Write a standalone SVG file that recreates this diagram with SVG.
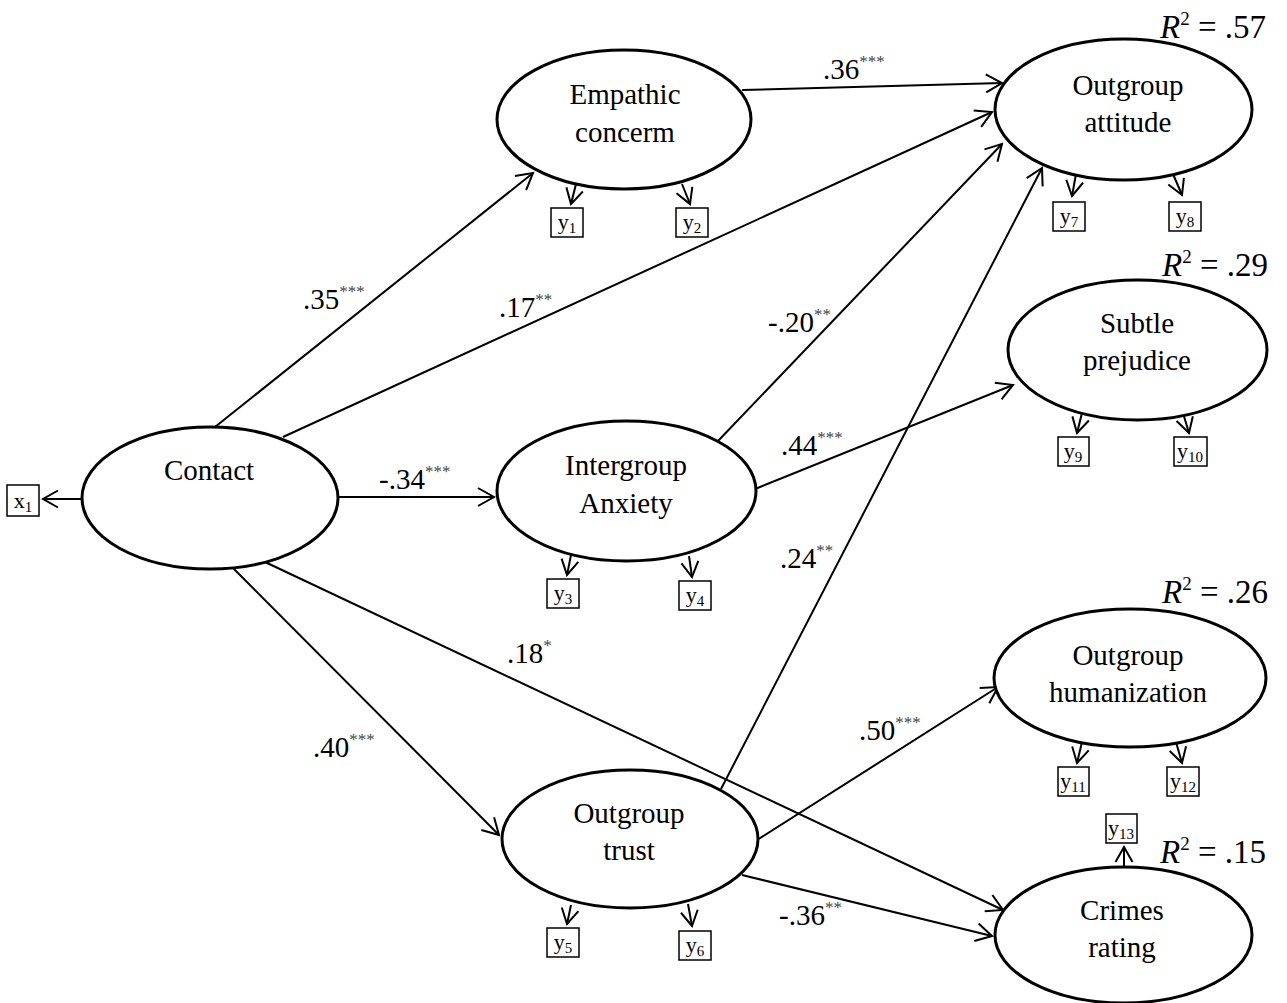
<svg xmlns="http://www.w3.org/2000/svg" width="1287" height="1003" viewBox="0 0 1287 1003">
  <defs>
    <style>
      text { font-family: "Liberation Serif", "Times New Roman", serif; fill: #000; }
      .node ellipse { fill: #fff; stroke: #000; stroke-width: 3; }
      .node .name { font-size: 29px; text-anchor: middle; }
      .ind rect { fill: #fff; stroke: #000; stroke-width: 1.5; }
      .ind text { font-size: 22px; text-anchor: middle; }
      .ind .sub { font-size: 15px; }
      .path line { stroke: #000; stroke-width: 2; fill: none; marker-end: url(#arr); }
      .load line { stroke: #000; stroke-width: 2; fill: none; marker-end: url(#arrS); }
      .coef { font-size: 29px; }
      .sig { font-size: 17px; fill: #444; }
      .r2 { font-size: 33px; }
      .r2 .sup { font-size: 19px; }
    </style>
    <marker id="arr" viewBox="0 0 20 20" refX="17" refY="10" markerWidth="20" markerHeight="20" markerUnits="userSpaceOnUse" orient="auto">
      <path d="M1,1 L17,10 L1,19" fill="none" stroke="#000" stroke-width="2"/>
    </marker>
    <marker id="arrS" viewBox="0 0 20 20" refX="16" refY="10" markerWidth="20" markerHeight="20" markerUnits="userSpaceOnUse" orient="auto">
      <path d="M1,1.5 L16,10 L1,18.5" fill="none" stroke="#000" stroke-width="2"/>
    </marker>
  </defs>

  <!-- structural paths with standardized coefficients -->
  <g id="connectors">
    <g class="path">
      <line x1="215" y1="427" x2="533" y2="173"/>
      <line x1="283" y1="437" x2="992" y2="112"/>
      <line x1="338" y1="497" x2="494" y2="497"/>
      <line x1="232" y1="567" x2="499" y2="835"/>
      <line x1="265" y1="562" x2="1003" y2="910"/>
      <line x1="742" y1="90" x2="1002" y2="83"/>
      <line x1="718" y1="441" x2="1002" y2="144"/>
      <line x1="755" y1="489" x2="1013" y2="385"/>
      <line x1="721" y1="789" x2="1042" y2="168"/>
      <line x1="757" y1="840" x2="998" y2="687"/>
      <line x1="742" y1="875" x2="992" y2="936"/>
    </g>
    <!-- indicator loadings -->
    <g class="load">
      <line x1="82" y1="499" x2="43" y2="499"/>
      <line x1="576" y1="184" x2="571" y2="204"/>
      <line x1="682" y1="184" x2="690" y2="204"/>
      <line x1="571" y1="555" x2="567" y2="575"/>
      <line x1="689" y1="556" x2="692" y2="577"/>
      <line x1="571" y1="905" x2="567" y2="924"/>
      <line x1="688" y1="904" x2="692" y2="926"/>
      <line x1="1076" y1="174" x2="1072" y2="196"/>
      <line x1="1173" y1="174" x2="1182" y2="195"/>
      <line x1="1082" y1="413" x2="1077" y2="433"/>
      <line x1="1183" y1="413" x2="1189" y2="433"/>
      <line x1="1082" y1="742" x2="1077" y2="763"/>
      <line x1="1176" y1="742" x2="1182" y2="763"/>
      <line x1="1124" y1="867" x2="1124" y2="847"/>
    </g>
    <!-- coefficient labels -->
    <text class="coef" x="303" y="309">.35<tspan class="sig" dy="-12">***</tspan></text>
    <text class="coef" x="499" y="317">.17<tspan class="sig" dy="-12">**</tspan></text>
    <text class="coef" x="379" y="489">-.34<tspan class="sig" dy="-12">***</tspan></text>
    <text class="coef" x="313" y="757">.40<tspan class="sig" dy="-12">***</tspan></text>
    <text class="coef" x="507" y="663">.18<tspan class="sig" dy="-12">*</tspan></text>
    <text class="coef" x="823" y="79">.36<tspan class="sig" dy="-12">***</tspan></text>
    <text class="coef" x="768" y="332">-.20<tspan class="sig" dy="-12">**</tspan></text>
    <text class="coef" x="781" y="455">.44<tspan class="sig" dy="-12">***</tspan></text>
    <text class="coef" x="780" y="568">.24<tspan class="sig" dy="-12">**</tspan></text>
    <text class="coef" x="859" y="740">.50<tspan class="sig" dy="-12">***</tspan></text>
    <text class="coef" x="779" y="925">-.36<tspan class="sig" dy="-12">**</tspan></text>
  </g>

  <!-- latent variables -->
  <g id="contact" class="node">
    <ellipse cx="210" cy="498" rx="128" ry="71"/>
    <text class="name" x="209" y="480">Contact</text>
  </g>
  <g id="empathic-concern" class="node">
    <ellipse cx="624" cy="119.5" rx="127" ry="69.5"/>
    <text class="name" x="625" y="104">Empathic</text>
    <text class="name" x="625" y="142">concerm</text>
  </g>
  <g id="intergroup-anxiety" class="node">
    <ellipse cx="626.5" cy="491" rx="129.5" ry="70"/>
    <text class="name" x="626" y="475">Intergroup</text>
    <text class="name" x="626" y="513">Anxiety</text>
  </g>
  <g id="outgroup-trust" class="node">
    <ellipse cx="630" cy="839" rx="128" ry="69"/>
    <text class="name" x="629" y="823">Outgroup</text>
    <text class="name" x="629" y="860">trust</text>
  </g>
  <g id="outgroup-attitude" class="node">
    <ellipse cx="1123.5" cy="109.5" rx="128.5" ry="70.5"/>
    <text class="name" x="1128" y="95">Outgroup</text>
    <text class="name" x="1128" y="132">attitude</text>
  </g>
  <g id="subtle-prejudice" class="node">
    <ellipse cx="1137.5" cy="350" rx="129.5" ry="70"/>
    <text class="name" x="1137" y="333">Subtle</text>
    <text class="name" x="1137" y="370">prejudice</text>
  </g>
  <g id="outgroup-humanization" class="node">
    <ellipse cx="1130" cy="678" rx="136" ry="69"/>
    <text class="name" x="1128" y="665">Outgroup</text>
    <text class="name" x="1128" y="702">humanization</text>
  </g>
  <g id="crimes-rating" class="node">
    <ellipse cx="1123.5" cy="935" rx="128.5" ry="68"/>
    <text class="name" x="1122" y="920">Crimes</text>
    <text class="name" x="1122" y="957">rating</text>
  </g>

  <!-- explained variance -->
  <g id="r2-labels">
    <text class="r2" x="1160" y="38"><tspan font-style="italic">R</tspan><tspan class="sup" dy="-13">2</tspan><tspan dy="13"> = .57</tspan></text>
    <text class="r2" x="1162" y="276"><tspan font-style="italic">R</tspan><tspan class="sup" dy="-13">2</tspan><tspan dy="13"> = .29</tspan></text>
    <text class="r2" x="1162" y="603"><tspan font-style="italic">R</tspan><tspan class="sup" dy="-13">2</tspan><tspan dy="13"> = .26</tspan></text>
    <text class="r2" x="1160" y="863"><tspan font-style="italic">R</tspan><tspan class="sup" dy="-13">2</tspan><tspan dy="13"> = .15</tspan></text>
  </g>

  <!-- observed indicators -->
  <g id="x1" class="ind"><rect x="7" y="485" width="32" height="31"/><text x="23" y="508">x<tspan class="sub" dy="4">1</tspan></text></g>
  <g id="y1" class="ind"><rect x="551" y="208" width="32" height="29"/><text x="567" y="229">y<tspan class="sub" dy="4">1</tspan></text></g>
  <g id="y2" class="ind"><rect x="676" y="208" width="32" height="29"/><text x="692" y="229">y<tspan class="sub" dy="4">2</tspan></text></g>
  <g id="y3" class="ind"><rect x="547" y="579" width="32" height="29"/><text x="563" y="600">y<tspan class="sub" dy="4">3</tspan></text></g>
  <g id="y4" class="ind"><rect x="679" y="581" width="32" height="29"/><text x="695" y="602">y<tspan class="sub" dy="4">4</tspan></text></g>
  <g id="y5" class="ind"><rect x="547" y="928" width="32" height="29"/><text x="563" y="949">y<tspan class="sub" dy="4">5</tspan></text></g>
  <g id="y6" class="ind"><rect x="679" y="931" width="32" height="29"/><text x="695" y="952">y<tspan class="sub" dy="4">6</tspan></text></g>
  <g id="y7" class="ind"><rect x="1053" y="202" width="32" height="29"/><text x="1069" y="223">y<tspan class="sub" dy="4">7</tspan></text></g>
  <g id="y8" class="ind"><rect x="1169" y="202" width="32" height="29"/><text x="1185" y="223">y<tspan class="sub" dy="4">8</tspan></text></g>
  <g id="y9" class="ind"><rect x="1058" y="437" width="31" height="29"/><text x="1073" y="458">y<tspan class="sub" dy="4">9</tspan></text></g>
  <g id="y10" class="ind"><rect x="1174" y="437" width="33" height="29"/><text x="1190" y="458">y<tspan class="sub" dy="4">10</tspan></text></g>
  <g id="y11" class="ind"><rect x="1058" y="767" width="31" height="29"/><text x="1073" y="788">y<tspan class="sub" dy="4">11</tspan></text></g>
  <g id="y12" class="ind"><rect x="1167" y="767" width="32" height="29"/><text x="1183" y="788">y<tspan class="sub" dy="4">12</tspan></text></g>
  <g id="y13" class="ind"><rect x="1106" y="814" width="31" height="29"/><text x="1121" y="835">y<tspan class="sub" dy="4">13</tspan></text></g>
</svg>
